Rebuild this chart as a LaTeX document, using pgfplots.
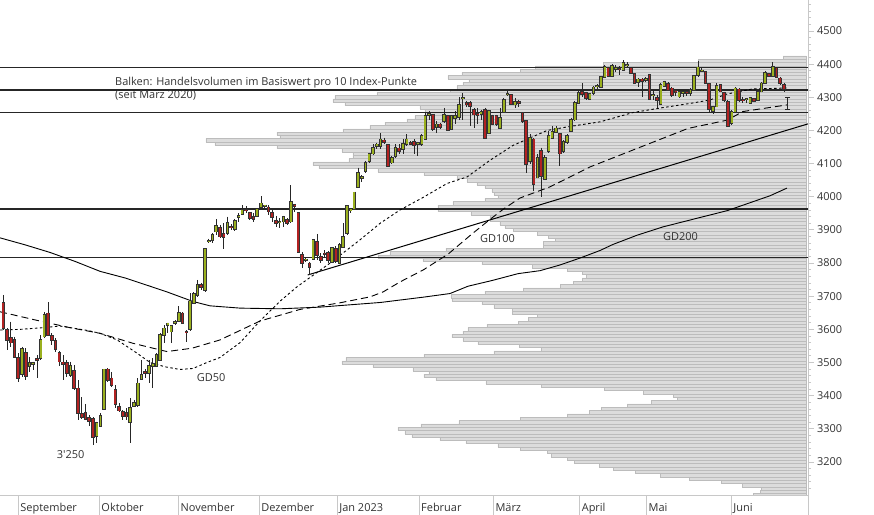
\documentclass[border=0pt]{standalone}
\usepackage{pgfplots}
\pgfplotsset{compat=1.18}
\usepackage{pgfplotstable}
\usepackage{fontspec}
\setmainfont{Open Sans}
\definecolor{upc}{RGB}{154,176,30}
\definecolor{dnc}{RGB}{178,34,34}
\definecolor{barfill}{RGB}{220,220,220}
\definecolor{barline}{RGB}{188,188,188}
\definecolor{axisgray}{RGB}{200,200,200}
\definecolor{txt}{RGB}{50,50,50}
\newcommand{\lblfont}{\fontsize{11}{13}\selectfont}

% volume profile: bar centre (index points), bar length (px from right edge)
\pgfplotstableread{
y L
4420 23
4410 108
4400 203
4390 271
4380 286
4370 344
4360 358
4350 337
4340 343
4330 349
4320 356
4310 429
4300 471
4290 473
4280 461
4270 386
4260 381
4250 381
4240 391
4230 399
4220 421
4210 436
4200 463
4190 529
4180 526
4170 600
4160 591
4150 529
4140 464
4130 453
4120 453
4110 457
4100 493
4090 487
4080 428
4070 382
4060 349
4050 339
4040 329
4030 321
4020 314
4010 312
4000 308
3990 321
3980 353
3970 368
3960 368
3950 335
3940 316
3930 316
3920 306
3910 301
3900 293
3890 269
3880 258
3870 251
3860 263
3850 263
3840 360
3830 416
3820 428
3810 383
3800 324
3790 274
3780 239
3770 224
3760 220
3750 224
3740 233
3730 246
3720 283
3710 321
3700 355
3690 354
3680 324
3670 312
3660 294
3650 294
3640 269
3630 278
3620 288
3610 319
3600 338
3590 343
3580 354
3570 343
3560 328
3550 287
3540 265
3530 312
3520 382
3510 460
3500 464
3490 433
3480 393
3470 377
3460 382
3450 370
3440 320
3430 265
3420 202
3410 163
3400 133
3390 129
3380 155
3370 179
3360 205
3350 217
3340 239
3330 286
3320 347
3310 385
3300 408
3290 401
3280 394
3270 366
3260 340
3250 308
3240 286
3230 259
3220 255
3210 239
3200 232
3190 207
3180 193
3170 171
3160 146
3150 117
3140 85
3130 64
3120 45
3110 46
3100 53
}\vol

% daily candles: trading-day index, open, high, low, close
\pgfplotstableread{
k o h l c
0 3679 3704 3598 3603
1 3598 3603 3538 3568
2 3573 3623 3548 3560
3 3568 3578 3513 3516
4 3513 3528 3442 3452
5 3464 3548 3457 3540
6 3528 3543 3447 3460
7 3488 3518 3472 3498
8 3496 3503 3477 3499
9 3510 3523 3452 3508
10 3513 3583 3508 3568
11 3578 3653 3573 3643
12 3648 3681 3580 3583
13 3580 3588 3553 3568
14 3565 3573 3533 3540
15 3528 3535 3488 3503
16 3500 3523 3447 3496
17 3498 3508 3457 3467
18 3463 3503 3457 3490
19 3475 3493 3418 3422
20 3422 3447 3327 3347
21 3344 3395 3329 3335
22 3349 3375 3327 3329
23 3334 3342 3307 3324
24 3329 3335 3250 3276
25 3278 3322 3256 3317
26 3307 3347 3305 3339
27 3360 3481 3357 3479
28 3479 3482 3442 3447
29 3452 3472 3427 3432
30 3417 3432 3362 3374
31 3367 3377 3352 3355
32 3352 3357 3327 3339
33 3347 3362 3327 3337
34 3319 3392 3256 3362
35 3369 3387 3365 3379
36 3372 3452 3367 3437
37 3449 3508 3447 3462
38 3471 3480 3452 3468
39 3467 3508 3437 3490
40 3490 3513 3422 3496
41 3490 3528 3485 3523
42 3508 3588 3506 3583
43 3583 3613 3558 3603
44 3613 3620 3588 3618
45 3593 3613 3558 3610
46 3618 3628 3613 3623
47 3626 3669 3623 3650
48 3648 3651 3618 3620
49 3592 3598 3563 3590
50 3600 3709 3595 3684
51 3679 3712 3675 3706
52 3704 3749 3699 3734
53 3734 3740 3720 3727
54 3719 3845 3714 3842
55 3865 3874 3859 3867
56 3869 3890 3860 3885
57 3895 3932 3885 3912
58 3907 3915 3875 3880
59 3888 3920 3841 3878
60 3890 3940 3885 3922
61 3910 3917 3900 3909
62 3902 3933 3897 3928
63 3938 3950 3925 3942
64 3947 3975 3945 3960
65 3961 3972 3950 3959
66 3952 3955 3930 3935
67 3940 3950 3925 3932
68 3942 3966 3938 3962
69 3968 4002 3965 3980
70 3972 3975 3965 3974
71 3968 3975 3945 3955
72 3952 3960 3925 3938
73 3928 3942 3910 3920
74 3922 3935 3905 3925
75 3925 3942 3910 3938
76 3930 3935 3915 3920
77 3925 4035 3922 3985
78 3976 3978 3955 3973
79 3950 3950 3829 3834
80 3824 3834 3784 3801
81 3809 3815 3804 3811
82 3799 3804 3764 3787
83 3811 3872 3809 3869
84 3864 3888 3809 3824
85 3819 3829 3799 3809
86 3829 3839 3819 3827
87 3831 3837 3799 3809
88 3804 3849 3799 3846
89 3842 3850 3800 3805
90 3801 3860 3798 3854
91 3849 3920 3849 3879
92 3890 3975 3885 3972
93 3958 3965 3950 3962
94 3962 4015 3960 4013
95 4028 4088 4025 4073
96 4056 4065 4045 4059
97 4078 4108 4073 4103
98 4108 4133 4103 4128
99 4130 4158 4127 4148
100 4153 4163 4143 4158
101 4153 4193 4143 4173
102 4170 4178 4160 4166
103 4156 4158 4090 4093
104 4103 4123 4098 4118
105 4123 4158 4118 4148
106 4146 4158 4128 4138
107 4143 4173 4128 4160
108 4158 4188 4153 4173
109 4162 4168 4155 4160
110 4166 4173 4128 4156
111 4160 4166 4123 4163
112 4158 4188 4153 4183
113 4173 4253 4170 4243
114 4247 4258 4233 4249
115 4248 4250 4198 4203
116 4210 4228 4193 4218
117 4218 4222 4205 4210
118 4228 4268 4223 4248
119 4243 4248 4198 4200
120 4203 4246 4200 4243
121 4238 4258 4218 4245
122 4240 4300 4233 4278
123 4297 4313 4233 4299
124 4283 4290 4270 4278
125 4283 4288 4213 4273
126 4263 4268 4208 4248
127 4249 4268 4218 4247
128 4250 4263 4233 4256
129 4263 4268 4173 4178
130 4193 4263 4188 4258
131 4243 4248 4215 4220
132 4243 4248 4213 4218
133 4206 4268 4203 4238
134 4256 4298 4253 4293
135 4308 4323 4303 4311
136 4306 4308 4278 4280
137 4278 4298 4268 4286
138 4285 4292 4270 4283
139 4253 4256 4223 4228
140 4228 4228 4073 4098
141 4108 4188 4098 4178
142 4173 4178 4018 4038
143 4058 4128 4058 4118
144 4138 4148 3998 4063
145 4053 4125 4050 4118
146 4138 4198 4133 4183
147 4178 4213 4173 4196
148 4196 4213 4193 4206
149 4190 4193 4093 4130
150 4138 4170 4133 4166
151 4166 4188 4160 4183
152 4198 4238 4195 4233
153 4233 4288 4228 4283
154 4283 4318 4280 4313
155 4317 4342 4302 4309
156 4314 4317 4292 4297
157 4294 4312 4292 4310
158 4312 4333 4308 4330
159 4333 4340 4325 4335
160 4332 4364 4330 4362
161 4362 4397 4360 4392
162 4389 4392 4360 4364
163 4364 4400 4362 4394
164 4386 4397 4377 4388
165 4385 4394 4367 4384
166 4382 4412 4380 4404
167 4396 4407 4387 4398
168 4387 4390 4372 4374
169 4370 4372 4340 4344
170 4347 4357 4332 4354
171 4354 4357 4302 4350
172 4353 4360 4345 4356
173 4367 4370 4292 4294
174 4306 4322 4292 4307
175 4297 4307 4267 4292
176 4280 4342 4277 4337
177 4334 4350 4330 4347
178 4340 4345 4318 4322
179 4327 4332 4302 4307
180 4318 4322 4305 4316
181 4302 4320 4298 4317
182 4313 4325 4302 4315
183 4315 4320 4305 4313
184 4312 4327 4305 4322
185 4322 4367 4320 4364
186 4367 4410 4362 4390
187 4380 4388 4375 4381
188 4377 4380 4340 4342
189 4340 4342 4252 4264
190 4258 4275 4250 4270
191 4272 4342 4270 4334
192 4337 4340 4315 4317
193 4314 4317 4287 4292
194 4287 4292 4209 4213
195 4221 4261 4216 4256
196 4257 4330 4254 4327
197 4324 4327 4287 4292
198 4293 4302 4282 4291
199 4294 4297 4284 4296
200 4282 4300 4280 4297
201 4294 4297 4285 4289
202 4292 4324 4290 4317
203 4317 4345 4315 4342
204 4342 4380 4340 4374
205 4370 4373 4362 4364
206 4364 4407 4362 4392
207 4387 4390 4357 4360
208 4357 4360 4337 4342
209 4337 4342 4317 4324
}\candles

\begin{document}
\begin{tikzpicture}
\path[use as bounding box] (0bp,0bp) rectangle (874bp,515bp);

% ---------- volume profile ----------
\begin{axis}[at={(0bp,20bp)}, anchor=south west, width=808bp, height=495bp,
  scale only axis, x dir=reverse, xmin=-2, xmax=806, ymin=3100.3, ymax=4593.5,
  hide axis]
\addplot[xbar, bar width=10, fill=barfill, draw=barline, line width=0.5bp]
  table[x=L, y=y] {\vol};
\end{axis}

% ---------- price chart ----------
\begin{axis}[at={(0bp,20bp)}, anchor=south west, width=808bp, height=495bp,
  scale only axis, xmin=-0.884, xmax=215.45, ymin=3100.3, ymax=4593.5,
  axis x line*=bottom, axis y line=none, ytick=\empty,
  x axis line style={draw=axisgray, line width=0.8bp},
  xtick={4,25.7,46.9,68.5,89.4,111.3,131.2,154.3,172.2,194.9},
  xticklabels={September,Oktober,November,Dezember,Jan 2023,Februar,März,April,Mai,Juni},
  tick align=outside, major tick length=20bp,
  xtick style={draw=axisgray, line width=0.8bp},
  xticklabel style={anchor=base west, inner sep=0pt, xshift=2bp, yshift=4bp,
    font=\lblfont, text=txt}]

% horizontal levels
\addplot[black!85, line width=1.1bp] coordinates {(-1,4391) (216,4391)};
\addplot[black!85, line width=1.1bp] coordinates {(-1,4322) (216,4322)};
\addplot[black!85, line width=1.1bp] coordinates {(-1,4255) (216,4255)};
\addplot[black!85, line width=1.1bp] coordinates {(-1,3963) (216,3963)};
\addplot[black!85, line width=1.1bp] coordinates {(-1,3816) (216,3816)};

% GD200
\addplot[black, line width=0.9bp] coordinates {
(-0.88,3876) (5.81,3855) (12.5,3832) (19.2,3805) (25.9,3775) (32.6,3755) (39.3,3730)
(43.8,3713) (50.8,3684) (55.3,3671) (63.4,3664) (74.1,3662) (84.8,3667) (92.8,3674)
(100.9,3681) (112.4,3697) (119.6,3708) (124.4,3730) (131.1,3748) (137.8,3768)
(143.7,3777) (149.0,3794) (154.4,3815) (159.8,3838) (163.2,3856) (169.7,3884)
(176.6,3909) (185.7,3935) (193.8,3958) (205.3,4003) (209.8,4026)};

% GD100
\addplot[black, line width=0.9bp, dash pattern=on 7bp off 4bp] coordinates {
(-0.88,3653) (10.6,3623) (17.9,3605) (25.9,3588) (34.7,3558) (43.8,3533) (50.5,3543)
(58.0,3568) (68.7,3625) (79.4,3660) (90.1,3680) (98.2,3698) (101.7,3713) (106.2,3743)
(112.4,3779) (119.1,3827) (125.5,3888) (130.8,3936) (134.3,3966) (138.3,3996)
(146.4,4030) (157.1,4090) (168.6,4141) (183.3,4206) (193.8,4231) (198.0,4257)
(209.8,4277)};

% GD50
\addplot[black, line width=0.9bp, dash pattern=on 2.5bp off 2.5bp] coordinates {
(-0.88,3598) (4.5,3600) (10.6,3605) (15.2,3610) (22.4,3597) (25.9,3588) (30.5,3568)
(35.8,3528) (39.3,3500) (43.3,3487) (47.3,3479) (50.8,3482) (54.5,3500) (58.0,3515)
(63.4,3560) (68.7,3625) (74.1,3685) (78.6,3728) (87.5,3800) (95.5,3870) (100.9,3920)
(106.2,3960) (112.4,3998) (118.8,4040) (124.2,4060) (130.3,4110) (136.5,4155)
(145.6,4200) (151.7,4212) (159.8,4226) (168.6,4254) (175.0,4266) (184.7,4283)
(189.2,4292) (193.8,4310) (200.5,4325) (209.8,4328)};

% trend line
\addplot[black, line width=1bp] coordinates {(81.5,3764) (215.5,4220)};

% wicks
\addplot[draw=none, mark=none, error bars/.cd, y dir=minus, y explicit,
  error mark=none, error bar style={line width=0.8bp, draw=black!85}]
  table[x=k, y=h, y error minus expr=\thisrow{h}-\thisrow{l}] {\candles};
% body outlines
\addplot[draw=none, mark=none, error bars/.cd, y dir=minus, y explicit,
  error mark=none, error bar style={line width=3.6bp, draw=black!80}]
  table[x=k, y expr={max(\thisrow{o},\thisrow{c})+2.5},
        y error minus expr={abs(\thisrow{c}-\thisrow{o})+5}] {\candles};
% rising bodies
\addplot[draw=none, mark=none, error bars/.cd, y dir=minus, y explicit,
  error mark=none, error bar style={line width=1.8bp, draw=upc}]
  table[x expr={\thisrow{c}>\thisrow{o} ? \thisrow{k} : -50}, y=c,
        y error minus expr={abs(\thisrow{c}-\thisrow{o})}] {\candles};
% falling bodies
\addplot[draw=none, mark=none, error bars/.cd, y dir=minus, y explicit,
  error mark=none, error bar style={line width=1.8bp, draw=dnc}]
  table[x expr={\thisrow{c}<\thisrow{o} ? \thisrow{k} : -50}, y=o,
        y error minus expr={abs(\thisrow{c}-\thisrow{o})}] {\candles};
% current day range
\addplot[black!85, line width=0.8bp, mark=-, mark size=2.5bp,
  mark options={line width=0.8bp}] coordinates {(210,4262) (210,4300)};

% labels
\node[anchor=base west, inner sep=0pt, font=\lblfont, text=txt] at (axis cs:29.9,4337)
  {Balken: Handelsvolumen im Basiswert pro 10 Index-Punkte};
\node[anchor=base west, inner sep=0pt, font=\lblfont, text=txt] at (axis cs:29.9,4295)
  {(seit März 2020)};
\node[anchor=west, inner sep=0pt, font=\lblfont, text=txt] at (axis cs:51.8,3456) {GD50};
\node[anchor=west, inner sep=0pt, font=\lblfont, text=txt] at (axis cs:127.6,3875) {GD100};
\node[anchor=west, inner sep=0pt, font=\lblfont, text=txt] at (axis cs:176.6,3879) {GD200};
\node[anchor=west, inner sep=0pt, font=\lblfont, text=txt] at (axis cs:14.3,3221) {3\textquotesingle 250};
\end{axis}

% ---------- right-hand price scale ----------
\begin{axis}[at={(0bp,20bp)}, anchor=south west, width=808bp, height=495bp,
  scale only axis, xmin=0, xmax=1, ymin=3100.3, ymax=4593.5,
  axis x line=none, axis y line*=right,
  y axis line style={draw=axisgray, line width=0.8bp},
  ytick={3200,3300,...,4500}, minor ytick={3120,3140,...,4580},
  tick align=outside, major tick length=5.5bp, minor tick length=3bp,
  every tick/.style={draw=axisgray, line width=0.8bp},
  yticklabel style={anchor=west, font=\lblfont, text=txt},
  /pgf/number format/.cd, 1000 sep={}, assume math mode=true]
\end{axis}
\draw[axisgray, line width=0.8bp] (808bp,0bp) -- (808bp,20bp);
\end{tikzpicture}
\end{document}
